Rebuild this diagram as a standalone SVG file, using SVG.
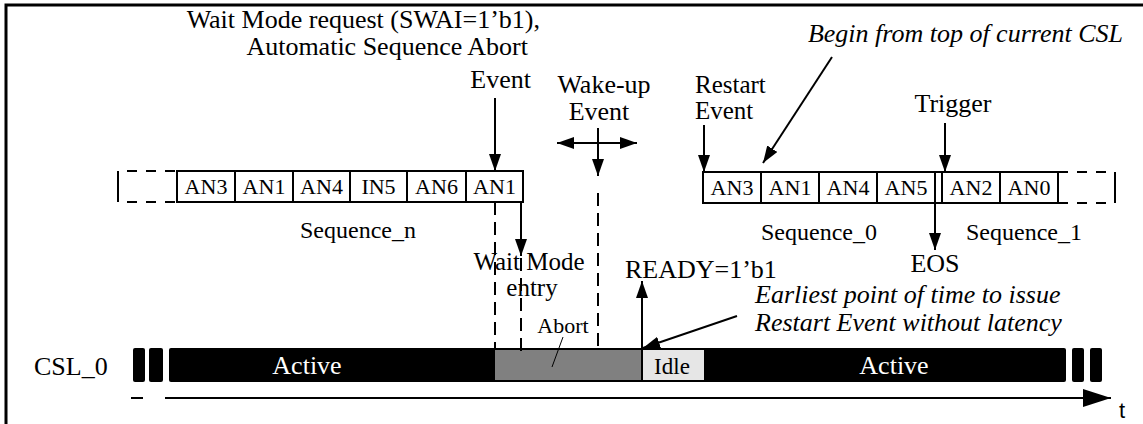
<svg xmlns="http://www.w3.org/2000/svg" width="1143" height="424" viewBox="0 0 1143 424">
<defs>
<marker id="ah" markerUnits="userSpaceOnUse" markerWidth="18" markerHeight="12" refX="17" refY="6" orient="auto-start-reverse"><path d="M0,0 L17,6 L0,12 z" fill="#000"/></marker>
<marker id="ahb" markerUnits="userSpaceOnUse" markerWidth="29" markerHeight="18" refX="28" refY="9" orient="auto"><path d="M0,0 L28,9 L0,18 z" fill="#000"/></marker>
</defs>
<style>
.t{font-family:"Liberation Serif","Times New Roman",serif;font-size:26px;fill:#000}
.i{font-style:italic}
.c{text-anchor:middle}
.e{text-anchor:end}
.bx{font-size:22px}
.sq{font-size:24px}
.w{fill:#fff}
.ln{stroke:#000;stroke-width:2;fill:none}
.dash{stroke:#000;stroke-width:2;stroke-dasharray:13 7;fill:none}
.cell{fill:#fff;stroke:#000;stroke-width:2}
</style>
<rect x="0" y="0" width="1143" height="424" fill="#fff"/>
<g id="frame"><path d="M6,424 V5 H1143" fill="none" stroke="#000" stroke-width="3"/></g>

<g id="wait-request">
<text class="t e" x="540" y="28">Wait Mode request (SWAI=1’b1),</text>
<text class="t e" x="528" y="55">Automatic Sequence Abort</text>
<text class="t e" x="531" y="88">Event</text>
</g>
<g id="wakeup">
<text class="t c" x="604" y="93">Wake-up</text>
<text class="t c" x="599" y="120">Event</text>
</g>
<g id="restart">
<text class="t" x="695" y="93" style="font-size:25px">Restart</text>
<text class="t" x="695" y="119" style="font-size:25px">Event</text>
</g>
<g id="begin"><text class="t i e" x="1123" y="42">Begin from top of current CSL</text></g>
<g id="trigger"><text class="t c" x="953" y="112">Trigger</text></g>

<g id="sequence-n">
<path class="ln" d="M118,171 V202"/>
<path class="ln" d="M127,171 H177 M127,202 H177" stroke-dasharray="10 9"/>
<rect class="cell" x="177" y="171" width="346" height="31"/>
<path class="ln" d="M235,171V202 M293,171V202 M350,171V202 M407,171V202 M466,171V202"/>
<text class="t c bx" x="206" y="194">AN3</text>
<text class="t c bx" x="264" y="194">AN1</text>
<text class="t c bx" x="321.5" y="194">AN4</text>
<text class="t c bx" x="378.5" y="194">IN5</text>
<text class="t c bx" x="436.5" y="194">AN6</text>
<text class="t c bx" x="494.5" y="194">AN1</text>
<text class="t c sq" x="358" y="238">Sequence_n</text>
</g>

<g id="sequence-0">
<rect class="cell" x="703" y="172" width="355" height="31"/>
<path class="ln" d="M761,172V203 M819,172V203 M877,172V203 M935,172V203 M942,172V203 M1000,172V203"/>
<path class="ln" d="M1058,172 H1108 M1058,203 H1108" stroke-dasharray="10 9"/>
<path class="ln" d="M1115,172 V203"/>
<text class="t c bx" x="732" y="195">AN3</text>
<text class="t c bx" x="790" y="195">AN1</text>
<text class="t c bx" x="848" y="195">AN4</text>
<text class="t c bx" x="906" y="195">AN5</text>
<text class="t c bx" x="971" y="195">AN2</text>
<text class="t c bx" x="1029" y="195">AN0</text>
<text class="t c sq" x="819" y="240">Sequence_0</text>
<text class="t c sq" x="1024" y="240">Sequence_1</text>
</g>

<g id="eos"><text class="t c" x="935" y="272">EOS</text></g>
<g id="wait-entry">
<text class="t c" x="529" y="270" style="font-size:25px">Wait Mode</text>
<text class="t c" x="532" y="296" style="font-size:25px">entry</text>
</g>
<g id="ready"><text class="t" x="625" y="278">READY=1’b1</text></g>
<g id="earliest">
<text class="t i" x="755" y="303">Earliest point of time to issue</text>
<text class="t i" x="755" y="331">Restart Event without latency</text>
</g>

<g id="csl0">
<text class="t" x="34" y="375">CSL_0</text>
<rect x="133" y="348" width="12" height="34" rx="2" fill="#000"/>
<rect x="149" y="348" width="14" height="34" rx="2" fill="#000"/>
<rect x="169" y="348" width="897" height="34" rx="2" fill="#000"/>
<rect x="1072" y="348" width="12" height="34" rx="2" fill="#000"/>
<rect x="1090" y="348" width="12" height="34" rx="2" fill="#000"/>
<rect x="495" y="350" width="146" height="30" fill="#808080"/>
<rect x="643" y="350" width="61" height="30" fill="#e6e6e6"/>
<text class="t c w" x="307" y="374">Active</text>
<text class="t c w" x="894" y="374">Active</text>
<text class="t c" x="672" y="374" style="font-size:23px">Idle</text>
<text class="t c" x="563" y="333" style="font-size:22px">Abort</text>
</g>

<g id="axis">
<path class="ln" d="M131,398 H143"/>
<path class="ln" d="M165,398 H1111" marker-end="url(#ahb)"/>
<text x="1119" y="418" style="font-family:'Liberation Sans',Arial,sans-serif;font-size:22px">t</text>
</g>

<g id="connectors">
<path class="ln" d="M495,98 V171" marker-end="url(#ah)"/>
<path class="ln" d="M598,128 V176" marker-end="url(#ah)"/>
<path class="ln" d="M557,143 H637" marker-start="url(#ah)" marker-end="url(#ah)"/>
<path class="ln" d="M704,125 V172" marker-end="url(#ah)"/>
<path class="ln" d="M832,57 L763,163" marker-end="url(#ah)"/>
<path class="ln" d="M945,123 V172" marker-end="url(#ah)"/>
<path class="ln" d="M935,203 V250" marker-end="url(#ah)"/>
<path class="ln" d="M521,202 V256" marker-end="url(#ah)"/>
<path class="dash" d="M521,258 V357"/>
<path class="dash" d="M495,202 V348"/>
<path class="dash" d="M598,193 V350"/>
<path class="ln" d="M642,348 V281" marker-end="url(#ah)"/>
<path class="ln" d="M642,348 V382"/>
<path class="ln" d="M737,316 L643,348" marker-end="url(#ah)" stroke-width="1.5"/>
<path d="M563,337 L552,367" stroke="#000" stroke-width="1"/>
</g>
</svg>
